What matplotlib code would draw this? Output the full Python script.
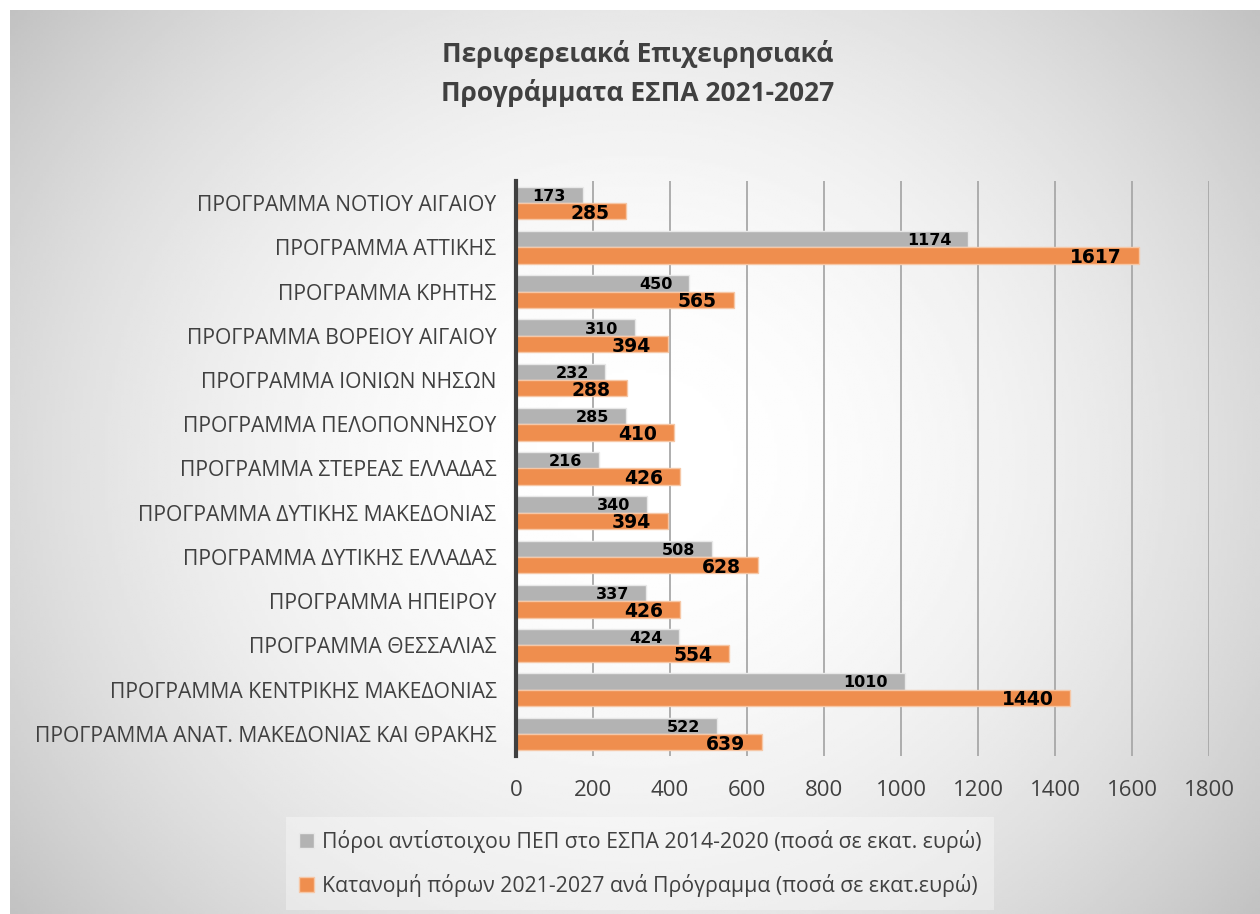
import numpy as np
import matplotlib
matplotlib.use('Agg')
import matplotlib.pyplot as plt
from matplotlib.patches import Patch

# data, top to bottom as shown
programmes = [
    'ΠΡΟΓΡΑΜΜΑ ΝΟΤΙΟΥ ΑΙΓΑΙΟΥ',
    'ΠΡΟΓΡΑΜΜΑ ΑΤΤΙΚΗΣ',
    'ΠΡΟΓΡΑΜΜΑ ΚΡΗΤΗΣ',
    'ΠΡΟΓΡΑΜΜΑ ΒΟΡΕΙΟΥ ΑΙΓΑΙΟΥ',
    'ΠΡΟΓΡΑΜΜΑ ΙΟΝΙΩΝ ΝΗΣΩΝ',
    'ΠΡΟΓΡΑΜΜΑ ΠΕΛΟΠΟΝΝΗΣΟΥ',
    'ΠΡΟΓΡΑΜΜΑ ΣΤΕΡΕΑΣ ΕΛΛΑΔΑΣ',
    'ΠΡΟΓΡΑΜΜΑ ΔΥΤΙΚΗΣ ΜΑΚΕΔΟΝΙΑΣ',
    'ΠΡΟΓΡΑΜΜΑ ΔΥΤΙΚΗΣ ΕΛΛΑΔΑΣ',
    'ΠΡΟΓΡΑΜΜΑ ΗΠΕΙΡΟΥ',
    'ΠΡΟΓΡΑΜΜΑ ΘΕΣΣΑΛΙΑΣ',
    'ΠΡΟΓΡΑΜΜΑ ΚΕΝΤΡΙΚΗΣ ΜΑΚΕΔΟΝΙΑΣ',
    'ΠΡΟΓΡΑΜΜΑ ΑΝΑΤ. ΜΑΚΕΔΟΝΙΑΣ ΚΑΙ ΘΡΑΚΗΣ',
]
pep_2014 = [173, 1174, 450, 310, 232, 285, 216, 340, 508, 337, 424, 1010, 522]
alloc_2021 = [285, 1617, 565, 394, 288, 410, 426, 394, 628, 426, 554, 1440, 639]

label_old = 'Πόροι αντίστοιχου ΠΕΠ στο ΕΣΠΑ 2014-2020 (ποσά σε εκατ. ευρώ)'
label_new = 'Κατανομή πόρων 2021-2027 ανά Πρόγραμμα (ποσά σε εκατ.ευρώ)'
title = 'Περιφερειακά Επιχειρησιακά\nΠρογράμματα ΕΣΠΑ 2021-2027'

GREY = '#b3b3b3'
ORANGE = '#ef8e4e'
TXT = '#404040'
font = ['Open Sans', 'DejaVu Sans']

fig = plt.figure(figsize=(12.6, 9.14), dpi=100)

# background panel with gradient, light in the middle
bg = fig.add_axes([10/1260, 0, 1 - 10/1260, 1 - 10/914])
yy, xx = np.mgrid[-1:1:400j, -1:1:400j]
r2 = (xx**2 + (0.8*yy)**2) / 1.64
shade = 1 - 0.24 * r2
bg.imshow(shade, cmap='gray', vmin=0, vmax=1, aspect='auto', extent=[0, 1, 0, 1])
bg.axis('off')

ax = fig.add_axes([516/1260, 1 - 756/914, 693/1260, 575/914])
ax.patch.set_alpha(0)

y = np.arange(len(programmes))
h = 0.37
b1 = ax.barh(y - h/2, pep_2014, height=h, color=GREY, edgecolor='#e8e8e8', linewidth=1, zorder=3)
b2 = ax.barh(y + h/2, alloc_2021, height=h, color=ORANGE, edgecolor='#f6c7a6', linewidth=1, zorder=3)

for rect, v in zip(b1, pep_2014):
    ax.annotate(str(v), (rect.get_width(), rect.get_y() + rect.get_height()/2), xytext=(-12, -1),
                textcoords='offset points', ha='right', va='center', fontsize=11.5, fontweight='bold',
                family='DejaVu Sans', color='black', zorder=4)
for rect, v in zip(b2, alloc_2021):
    ax.annotate(str(v), (rect.get_width(), rect.get_y() + rect.get_height()/2), xytext=(-12, -1.5),
                textcoords='offset points', ha='right', va='center', fontsize=13.5, fontweight='bold',
                family='DejaVu Sans', color='black', zorder=4)

ax.set_xlim(0, 1800)
ax.set_ylim(len(programmes) - 0.5, -0.5)
ax.set_xticks(np.arange(0, 1801, 200))
ax.set_yticks(y)
ax.set_yticklabels(programmes, family=font)
for t in ax.get_xticklabels():
    t.set_family(font)
ax.tick_params(axis='y', length=0, pad=14, labelsize=15.2, labelcolor=TXT)
ax.tick_params(axis='x', length=0, pad=17, labelsize=16, labelcolor=TXT)
ax.grid(axis='x', color='#a8a8a8', linewidth=1.3, zorder=0)
for s in ['top', 'right', 'bottom']:
    ax.spines[s].set_visible(False)
ax.spines['left'].set_color('#404040')
ax.spines['left'].set_linewidth(3)
ax.spines['left'].set_zorder(5)

fig.text(0.506, 0.920, title, ha='center', va='center', fontsize=19, fontweight='bold',
         color=TXT, family=font, linespacing=1.5)

handles = [Patch(facecolor=GREY, edgecolor='#e8e8e8'), Patch(facecolor=ORANGE, edgecolor='#f6c7a6')]
leg = fig.legend(handles, [label_old, label_new], loc='center', bbox_to_anchor=(0.508, 0.055),
                 ncol=1, frameon=True, fancybox=False, handlelength=0.7, handleheight=0.7,
                 handletextpad=0.4, labelspacing=1.0, borderpad=0.6,
                 prop={'family': font, 'size': 15.3})
leg.get_frame().set_facecolor('white')
leg.get_frame().set_alpha(0.35)
leg.get_frame().set_edgecolor('none')
for t in leg.get_texts():
    t.set_color(TXT)

fig.savefig('out.png', dpi=100)
